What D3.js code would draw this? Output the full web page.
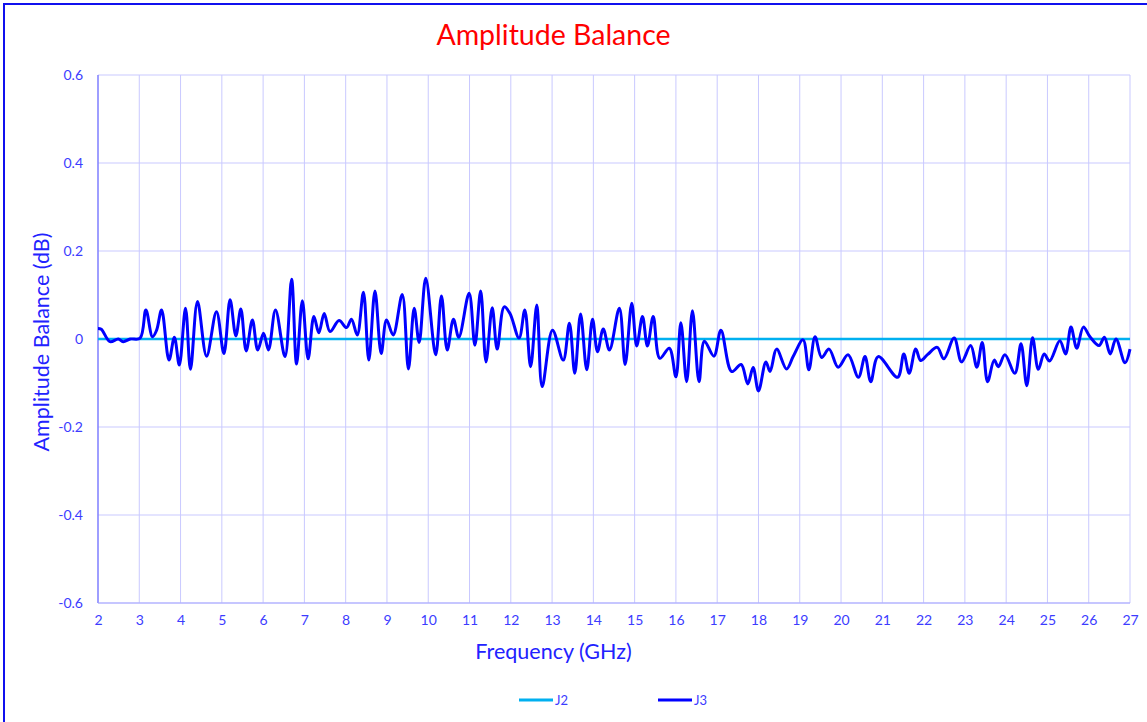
<!DOCTYPE html>
<html><head><meta charset="utf-8">
<script src="https://cdn.jsdelivr.net/npm/d3@7"></script>
<style>
body{margin:0;background:#fff;}
text{font-family:"Lato","Open Sans",sans-serif;}
</style></head>
<body><svg id="c" width="1147" height="722"></svg>
<script>
const xTicks = [2,3,4,5,6,7,8,9,10,11,12,13,14,15,16,17,18,19,20,21,22,23,24,25,26,27];
const yTicks = [-0.6,-0.4,-0.2,0,0.2,0.4,0.6];
const j2Freq = [2, 27];
const j2Vals = [0, 0];
const j3Freq = [2.0,2.08,2.29,2.49,2.61,2.78,3.02,3.16,3.32,3.42,3.54,3.72,3.85,3.97,4.12,4.24,4.41,4.63,4.87,5.05,5.20,5.34,5.46,5.59,5.74,5.87,6.01,6.13,6.30,6.53,6.69,6.81,6.95,7.09,7.23,7.35,7.48,7.62,7.84,8.02,8.14,8.28,8.43,8.56,8.71,8.86,8.99,9.15,9.37,9.52,9.66,9.78,9.94,10.18,10.32,10.46,10.61,10.74,10.99,11.13,11.27,11.40,11.55,11.67,11.84,11.98,12.20,12.34,12.48,12.63,12.76,13.01,13.27,13.42,13.55,13.69,13.84,13.98,14.10,14.24,14.39,14.63,14.77,14.93,15.05,15.19,15.31,15.45,15.61,15.84,16.00,16.12,16.26,16.40,16.56,16.69,16.92,17.09,17.35,17.58,17.74,17.87,18.00,18.18,18.28,18.44,18.68,18.84,19.08,19.22,19.37,19.53,19.71,19.93,20.17,20.42,20.58,20.72,20.90,21.37,21.52,21.65,21.81,21.93,22.10,22.33,22.49,22.74,22.92,23.14,23.29,23.42,23.55,23.71,23.81,23.97,24.21,24.36,24.50,24.64,24.78,24.92,25.05,25.30,25.44,25.57,25.71,25.87,26.03,26.25,26.38,26.52,26.66,26.88,27.0];
const j3Vals = [0.024,0.022,-0.006,0.0,-0.006,0.0,0.002,0.066,0.005,0.02,0.066,-0.048,0.004,-0.059,0.07,-0.069,0.085,-0.039,0.062,-0.033,0.089,0.007,0.068,-0.027,0.043,-0.025,0.013,-0.025,0.066,-0.04,0.136,-0.057,0.087,-0.045,0.051,0.014,0.058,0.017,0.042,0.026,0.045,0.009,0.106,-0.048,0.109,-0.033,0.043,0.009,0.101,-0.068,0.07,-0.008,0.138,-0.036,0.098,-0.025,0.045,0.004,0.104,-0.014,0.109,-0.052,0.071,-0.023,0.073,0.058,0.002,0.066,-0.063,0.077,-0.108,0.020,-0.048,0.036,-0.078,0.057,-0.07,0.045,-0.029,0.023,-0.025,0.07,-0.058,0.081,-0.016,0.051,-0.016,0.051,-0.044,-0.021,-0.086,0.037,-0.097,0.064,-0.097,-0.005,-0.039,0.02,-0.074,-0.058,-0.102,-0.065,-0.118,-0.052,-0.074,-0.023,-0.068,-0.040,-0.002,-0.07,0.005,-0.042,-0.023,-0.064,-0.036,-0.087,-0.040,-0.097,-0.040,-0.087,-0.034,-0.078,-0.023,-0.049,-0.035,-0.019,-0.045,0.002,-0.052,-0.015,-0.064,-0.008,-0.097,-0.048,-0.063,-0.036,-0.078,-0.011,-0.106,0.003,-0.069,-0.034,-0.05,-0.004,-0.034,0.027,-0.021,0.027,0.005,-0.015,0.004,-0.034,0.0,-0.054,-0.023];

const svg = d3.select("#c");
const L=98,R=1130,T=75,B=603;
const x = d3.scaleLinear().domain([2,27]).range([L,R]);
const y = d3.scaleLinear().domain([-0.6,0.6]).range([B,T]);
const blueTxt = "#3c3cff";

svg.append("rect").attr("x",4).attr("y",4).attr("width",1160).attr("height",800)
  .attr("fill","none").attr("stroke","#1010ee").attr("stroke-width",2);

// grid
svg.append("g").selectAll("line").data(xTicks).join("line")
  .attr("x1",d=>x(d)).attr("x2",d=>x(d)).attr("y1",T).attr("y2",B)
  .attr("stroke","#c9c9ff").attr("stroke-width",1);
svg.append("g").selectAll("line").data(yTicks).join("line")
  .attr("x1",L).attr("x2",R).attr("y1",d=>y(d)).attr("y2",d=>y(d))
  .attr("stroke","#c9c9ff").attr("stroke-width",1);
svg.append("line").attr("x1",L).attr("x2",L).attr("y1",T).attr("y2",B).attr("stroke","#7070ff").attr("stroke-width",1.2);
svg.append("line").attr("x1",L).attr("x2",R).attr("y1",B).attr("y2",B).attr("stroke","#a8a8ff").attr("stroke-width",1);

// axes labels via d3 axes
const ax = svg.append("g").attr("transform",`translate(0,${B})`)
  .call(d3.axisBottom(x).tickValues(xTicks).tickFormat(d=>String(d)).tickSize(0).tickPadding(12));
ax.select(".domain").remove();
ax.selectAll("text").attr("fill",blueTxt).style("font-size","14px").style("font-family","Lato, sans-serif");
const ay = svg.append("g").attr("transform",`translate(${L},0)`)
  .call(d3.axisLeft(y).tickValues(yTicks).tickFormat(d=>d===0?"0":d.toFixed(1)).tickSize(0).tickPadding(15));
ay.select(".domain").remove();
ay.selectAll("text").attr("fill",blueTxt).style("font-size","14px").style("font-family","Lato, sans-serif");

// lines
const line = d3.line().x(d=>x(d[0])).y(d=>y(d[1]));
svg.append("path").datum(j2Freq.map((f,i)=>[f,j2Vals[i]]))
  .attr("d",line).attr("fill","none").attr("stroke","#00b0f0").attr("stroke-width",2.5);
svg.append("path").datum(j3Freq.map((f,i)=>[f,j3Vals[i]]))
  .attr("d",line.curve(d3.curveCatmullRom.alpha(0.5))).attr("fill","none").attr("stroke","#0000ff").attr("stroke-width",3).attr("stroke-linejoin","round");

// titles
svg.append("text").attr("x",553.5).attr("y",45).attr("text-anchor","middle")
  .attr("fill","#ff0000").style("font-size","28.5px").text("Amplitude Balance");
svg.append("text").attr("x",553.5).attr("y",659).attr("text-anchor","middle")
  .attr("fill","#2222ff").style("font-size","21.5px").text("Frequency (GHz)");
svg.append("text").attr("transform","translate(49,342) rotate(-90)").attr("text-anchor","middle")
  .attr("fill","#2222ff").style("font-size","21.5px").text("Amplitude Balance (dB)");

// legend
const leg = [{n:"J2",c:"#00b0f0",x:519},{n:"J3",c:"#0000ff",x:658}];
leg.forEach(l=>{
  svg.append("line").attr("x1",l.x).attr("x2",l.x+34).attr("y1",700).attr("y2",700).attr("stroke",l.c).attr("stroke-width",3);
  svg.append("text").attr("x",l.x+36).attr("y",705).attr("fill",blueTxt).style("font-size","13px").text(l.n);
});
</script></body></html>
